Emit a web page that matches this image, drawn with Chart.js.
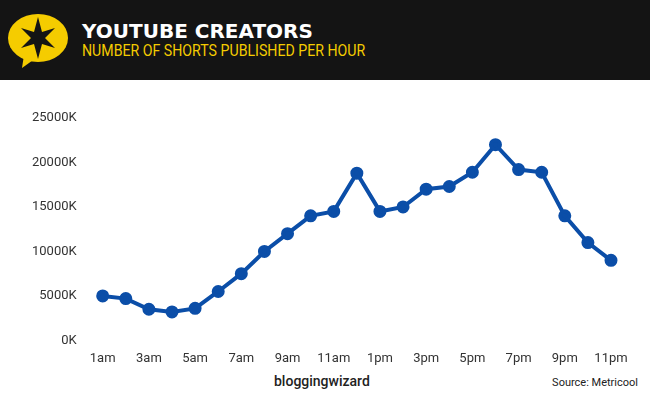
<!DOCTYPE html>
<html>
<head>
<script src="https://cdn.jsdelivr.net/npm/chart.js@4"></script>
<style>
  body { margin: 0; width: 650px; height: 400px; background: #fff; font-family: Roboto, sans-serif; position: relative; overflow: hidden; }
  #header { position: absolute; left: 0; top: 0; width: 650px; height: 80px; background: #141414; }
  #title { position: absolute; left: 82px; top: 19px; color: #fff; font: bold 20px "DejaVu Sans", sans-serif; }
  #subtitle { position: absolute; left: 82px; top: 41px; color: #f5cc00; font: 16px Roboto, sans-serif; transform: scaleX(0.885); transform-origin: left; }
  #chartBox { position: absolute; left: 0; top: 80px; width: 650px; height: 290px; }
  #brand { position: absolute; left: 274px; top: 373px; font: 500 14px Roboto, sans-serif; color: #222; }
  #source { position: absolute; right: 12px; top: 376px; font: 11px Roboto, sans-serif; color: #222; }
</style>
</head>
<body>
<div id="header">
  <svg width="80" height="80" style="position:absolute;left:0;top:0">
    <ellipse cx="38" cy="38" rx="30" ry="24" fill="#f5cc00"/>
    <path d="M24 55 L22 68 L36 58 Z" fill="#f5cc00"/>
    <path d="M38 17 L42 32 L55 28 L45 38 L55 48 L42 44 L38 59 L34 44 L21 48 L31 38 L21 28 L34 32 Z" fill="#141414"/>
  </svg>
  <div id="title">YOUTUBE CREATORS</div>
  <div id="subtitle">NUMBER OF SHORTS PUBLISHED PER HOUR</div>
</div>
<div id="chartBox"><canvas id="myChart"></canvas></div>
<div id="brand">bloggingwizard</div>
<div id="source">Source: Metricool</div>
<script>
// Hours of the day and shorts published (in thousands)
let hours = ['1am','2am','3am','4am','5am','6am','7am','8am','9am','10am','11am','12pm',
             '1pm','2pm','3pm','4pm','5pm','6pm','7pm','8pm','9pm','10pm','11pm'];
let shorts = [5000, 4700, 3500, 3200, 3600, 5500, 7500, 10000, 12000, 14000, 14500, 18800,
              14500, 15000, 17000, 17300, 18900, 22000, 19200, 18900, 14000, 11000, 9000];
let yTicks = [0, 5000, 10000, 15000, 20000, 25000];

let ctx = document.getElementById('myChart');
new Chart(ctx, {
  type: 'line',
  data: {
    labels: hours,
    datasets: [{
      data: shorts,
      borderColor: '#0b4ea8',
      backgroundColor: '#0b4ea8',
      borderWidth: 4,
      pointRadius: 4.5,
      tension: 0
    }]
  },
  options: {
    responsive: true,
    maintainAspectRatio: false,
    animation: false,
    layout: { padding: { top: 38, right: 39, left: 14 } },
    plugins: { legend: { display: false }, tooltip: { enabled: false } },
    scales: {
      x: {
        grid: { display: false },
        border: { display: false },
        ticks: {
          color: '#333', font: { family: 'Roboto', size: 13 },
          maxRotation: 0, autoSkip: false,
          callback: (v, i) => i % 2 === 0 ? hours[i] : ''
        }
      },
      y: {
        min: 0, max: 25000,
        afterBuildTicks: axis => { axis.ticks = yTicks.map(v => ({ value: v })); },
        grid: { display: false },
        border: { display: false },
        ticks: {
          color: '#333', font: { family: 'Roboto', size: 13 }, padding: 18,
          callback: v => v + 'K'
        }
      }
    }
  }
});
</script>
</body>
</html>
